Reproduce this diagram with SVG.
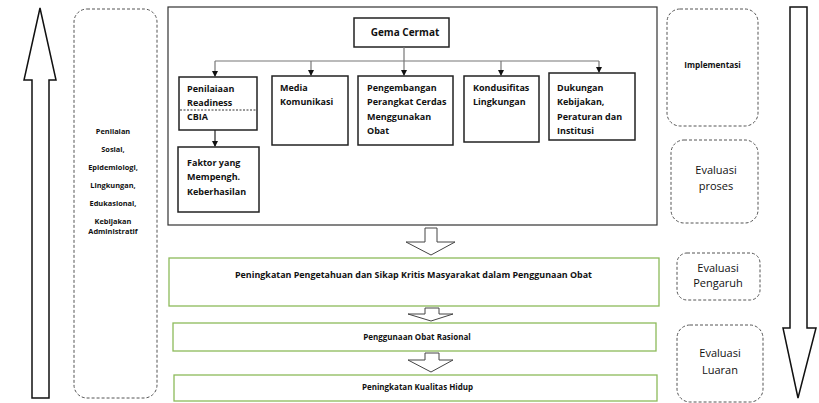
<svg xmlns="http://www.w3.org/2000/svg" width="819" height="403" viewBox="0 0 819 403">
<style>
text{font-family:"Open Sans","Liberation Sans",sans-serif;fill:#111;font-weight:bold}
.box{fill:#fff;stroke:#222;stroke-width:1.5}
.main{fill:#fff;stroke:#333;stroke-width:1.2}
.dash{fill:#fff;stroke:#555;stroke-width:1;stroke-dasharray:3 2}
.green{fill:#fff;stroke:#8dbb5a;stroke-width:1.3}
.big{fill:#fff;stroke:#111;stroke-width:1.5}
.hollow{fill:#fff;stroke:#444;stroke-width:1}
.conn{fill:none;stroke:#777;stroke-width:1.2}
.t9{font-size:9px}
.t8{font-size:8px}
.t75{font-size:7.4px}
.reg{font-weight:normal;font-size:11px}
</style>
<defs>
<marker id="ah" markerWidth="6" markerHeight="6" refX="5" refY="3" orient="auto" markerUnits="userSpaceOnUse">
<path d="M0,0 L6,3 L0,6 Z" fill="#111"/>
</marker>
</defs>

<g id="arrow-up">
<path class="big" d="M40,8 L56,80 L49,80 L49,398 L32,398 L32,80 L24,80 Z"/>
</g>
<g id="arrow-down">
<path class="big" d="M790,7 L807,7 L807,328 L816,328 L798,398 L783,328 L790,328 Z"/>
</g>

<g id="penilaian-sosial">
<rect class="dash" x="74" y="9" width="83" height="389" rx="13"/>
<g text-anchor="middle" class="t75">
<text x="113" y="134">Penilaian</text>
<text x="113" y="152">Sosial,</text>
<text x="113" y="170">Epidemiologi,</text>
<text x="113" y="188">Lingkungan,</text>
<text x="113" y="206">Edukasional,</text>
<text x="113" y="224">Kebijakan</text>
<text x="113" y="234">Administratif</text>
</g>
</g>

<g id="main-frame">
<rect class="main" x="168" y="7" width="489" height="218"/>
</g>

<g id="gema-cermat">
<rect class="box" x="354" y="18" width="95" height="29"/>
<text x="405" y="36" text-anchor="middle" font-size="10">Gema Cermat</text>
</g>

<g id="connectors">
<path class="conn" d="M404,47 L404,61 M215,61 L599,61"/>
<path class="conn" d="M215,61 L215,76" marker-end="url(#ah)"/>
<path class="conn" d="M311,61 L311,75" marker-end="url(#ah)"/>
<path class="conn" d="M404,61 L404,75" marker-end="url(#ah)"/>
<path class="conn" d="M501,61 L501,75" marker-end="url(#ah)"/>
<path class="conn" d="M599,61 L599,72" marker-end="url(#ah)"/>
<path class="conn" d="M215,130 L215,146" marker-end="url(#ah)" style="stroke:#222"/>
</g>

<g id="penilaian-readiness">
<rect class="box" x="179" y="77" width="78" height="53"/>
<line x1="180" y1="110" x2="256" y2="110" stroke="#333" stroke-width="1" stroke-dasharray="2 1.5"/>
<text class="t9" x="187" y="92">Penilaiaan</text>
<text class="t9" x="187" y="106">Readiness</text>
<text class="t9" x="187" y="120">CBIA</text>
</g>

<g id="faktor">
<rect class="box" x="178" y="147" width="81" height="65"/>
<text class="t9" x="187" y="166">Faktor yang</text>
<text class="t9" x="187" y="180">Mempengh.</text>
<text class="t9" x="187" y="195">Keberhasilan</text>
</g>

<g id="media">
<rect class="box" x="272" y="76" width="76" height="69"/>
<text class="t9" x="280" y="91">Media</text>
<text class="t9" x="280" y="105">Komunikasi</text>
</g>

<g id="pengembangan">
<rect class="box" x="358" y="76" width="95" height="69"/>
<text class="t9" x="367" y="91">Pengembangan</text>
<text class="t9" x="367" y="105">Perangkat Cerdas</text>
<text class="t9" x="367" y="120">Menggunakan</text>
<text class="t9" x="367" y="134">Obat</text>
</g>

<g id="kondusifitas">
<rect class="box" x="464" y="76" width="75" height="66"/>
<text class="t9" x="473" y="91">Kondusifitas</text>
<text class="t9" x="473" y="105">Lingkungan</text>
</g>

<g id="dukungan">
<rect class="box" x="549" y="73" width="86" height="67"/>
<text class="t9" x="557" y="91">Dukungan</text>
<text class="t9" x="557" y="105">Kebijakan,</text>
<text class="t9" x="557" y="120">Peraturan dan</text>
<text class="t9" x="557" y="134">Institusi</text>
</g>

<g id="implementasi">
<rect class="dash" x="667" y="9" width="91" height="117" rx="13"/>
<text x="712.5" y="68" text-anchor="middle" font-size="8.2">Implementasi</text>
</g>
<g id="evaluasi-proses">
<rect class="dash" x="671" y="140" width="87" height="83" rx="13"/>
<text class="reg" x="716" y="174" text-anchor="middle">Evaluasi</text>
<text class="reg" x="716" y="190" text-anchor="middle">proses</text>
</g>
<g id="evaluasi-pengaruh">
<rect class="dash" x="677" y="253" width="83" height="47" rx="10"/>
<text class="reg" x="718" y="272" text-anchor="middle">Evaluasi</text>
<text class="reg" x="718" y="287" text-anchor="middle">Pengaruh</text>
</g>
<g id="evaluasi-luaran">
<rect class="dash" x="677" y="325" width="86" height="77" rx="13"/>
<text class="reg" x="720" y="357" text-anchor="middle">Evaluasi</text>
<text class="reg" x="720" y="374" text-anchor="middle">Luaran</text>
</g>

<g id="flow-arrows">
<path class="hollow" d="M425,228 L437,228 L437,242 L455,242 L431,255 L406,242 L425,242 Z"/>
<path class="hollow" d="M425,308 L439,308 L439,314 L453,314 L431,321 L408,314 L425,314 Z"/>
<path class="hollow" d="M425,353 L439,353 L439,360 L453,360 L431,372 L408,360 L425,360 Z"/>
</g>

<g id="peningkatan-pengetahuan">
<rect class="green" x="169" y="258" width="490" height="48"/>
<text class="t8" x="413.5" y="278" text-anchor="middle" textLength="357" lengthAdjust="spacingAndGlyphs">Peningkatan Pengetahuan dan Sikap Kritis Masyarakat dalam Penggunaan Obat</text>
</g>
<g id="penggunaan-obat">
<rect class="green" x="173" y="323" width="483" height="28"/>
<text class="t8" x="417" y="340" text-anchor="middle">Penggunaan Obat Rasional</text>
</g>
<g id="kualitas-hidup">
<rect class="green" x="174" y="375" width="483" height="26"/>
<text class="t8" x="417.5" y="390" text-anchor="middle">Peningkatan Kualitas Hidup</text>
</g>
</svg>
